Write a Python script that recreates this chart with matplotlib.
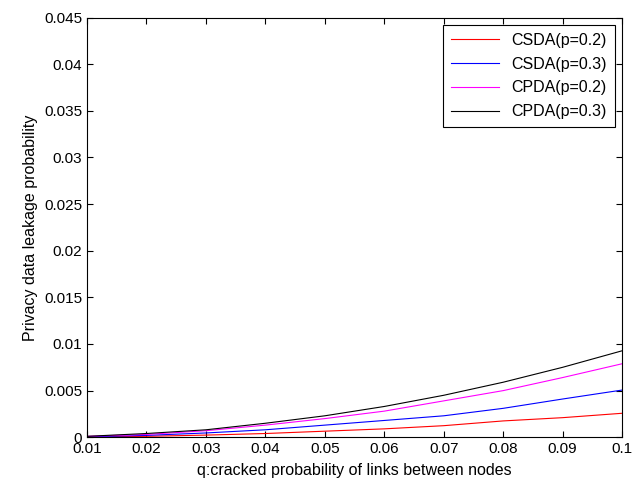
import numpy as np
import matplotlib
matplotlib.use('Agg')
import matplotlib.pyplot as plt

# values
q = [0.01, 0.02, 0.03, 0.04, 0.05, 0.06, 0.07, 0.08, 0.09, 0.10]
csda_02 = [0.00003, 0.0001, 0.00023, 0.0004, 0.00065, 0.0009, 0.00124, 0.00175, 0.0021, 0.00257]
csda_03 = [0.00005, 0.0002, 0.00046, 0.0008, 0.0013, 0.0018, 0.0023, 0.0031, 0.0041, 0.00506]
cpda_02 = [0.0001, 0.0003, 0.0007, 0.0013, 0.0020, 0.0028, 0.0039, 0.0050, 0.0064, 0.00788]
cpda_03 = [0.0001, 0.0004, 0.0008, 0.0015, 0.0023, 0.0033, 0.0045, 0.0059, 0.0075, 0.00927]

labels = ['CSDA(p=0.2)', 'CSDA(p=0.3)', 'CPDA(p=0.2)', 'CPDA(p=0.3)']
colors = ['red', 'blue', 'magenta', 'black']

xticks = [0.01, 0.02, 0.03, 0.04, 0.05, 0.06, 0.07, 0.08, 0.09, 0.1]
xticklabels = ['0.01', '0.02', '0.03', '0.04', '0.05', '0.06', '0.07', '0.08', '0.09', '0.1']
yticks = [0, 0.005, 0.01, 0.015, 0.02, 0.025, 0.03, 0.035, 0.04, 0.045]
yticklabels = ['0', '0.005', '0.01', '0.015', '0.02', '0.025', '0.03', '0.035', '0.04', '0.045']

plt.rcParams['font.family'] = ['Liberation Sans', 'DejaVu Sans']

fig = plt.figure(figsize=(6.4, 4.88), dpi=100)
ax = fig.add_axes([0.136, 0.104, 0.836, 0.860])

for ys, lab, c in zip([csda_02, csda_03, cpda_02, cpda_03], labels, colors):
    ax.plot(q, ys, color=c, linewidth=0.8, label=lab)

ax.set_xlim(0.01, 0.1)
ax.set_ylim(0, 0.045)
ax.set_xticks(xticks)
ax.set_xticklabels(xticklabels)
ax.set_yticks(yticks)
ax.set_yticklabels(yticklabels)
ax.tick_params(direction='in', top=True, right=True, labelsize=11, length=4, width=0.8)
for s in ax.spines.values():
    s.set_linewidth(0.8)

ax.set_xlabel('q:cracked probability of links between nodes', fontsize=11.5, labelpad=5)
ax.set_ylabel('Privacy data leakage probability', fontsize=11.5)

leg = ax.legend(loc='upper right', fontsize=11.5, fancybox=False, framealpha=1,
                edgecolor='black', borderaxespad=0.45, handlelength=3.0,
                labelspacing=0.55, borderpad=0.5)
leg.get_frame().set_linewidth(0.8)

fig.savefig('out.png', dpi=100)
